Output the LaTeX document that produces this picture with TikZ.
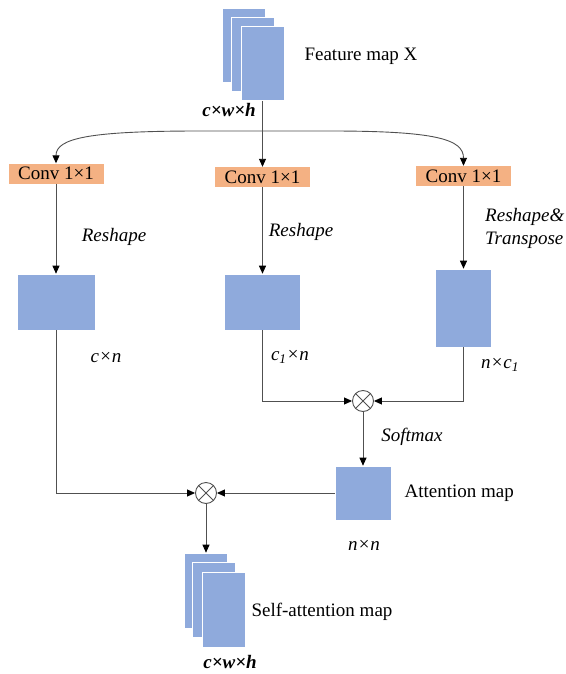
\documentclass[tikz,border=0pt]{standalone}
\usepackage{fontspec}
\setmainfont{Liberation Serif}
\usetikzlibrary{positioning,arrows.meta}
\definecolor{mapblue}{RGB}{143,170,220}
\definecolor{convorange}{RGB}{244,177,131}
\definecolor{linegray}{RGB}{80,80,80}
\tikzstyle{link} = [line width=0.9pt,draw=linegray]
\tikzstyle{arrow} = [link,-{Triangle[length=8pt,width=7pt,color=black]}]
\tikzstyle{conv} = [fill=convorange,minimum width=95pt,minimum height=20pt,inner sep=0pt]
\tikzstyle{sheet} = [fill=mapblue,draw=white,line width=0.6pt,inner sep=0pt]
\tikzstyle{mult} = [circle,draw=linegray,line width=0.9pt,minimum size=21pt,inner sep=0pt]
\tikzstyle{dimlabel} = [font=\fontsize{19}{23}\selectfont\itshape]
\tikzstyle{oplabel} = [font=\fontsize{19}{23}\selectfont\itshape]

\begin{document}
\begin{tikzpicture}[x=1pt,y=-1pt,font=\fontsize{19}{23}\selectfont]
			\useasboundingbox (0,0) rectangle (565,674);
			\node [sheet,minimum width=43pt,minimum height=74pt] (fmapa) at (244,45) {};
			\node [sheet,minimum width=43pt,minimum height=74pt] (fmapb) at (252.5,54.5) {};
			\node [sheet,minimum width=43pt,minimum height=74pt] (fmapc) at (262.5,63.5) {};
			\node [anchor=west] (fmaptext) at (301,56) {Feature map X};
			\node [dimlabel,font=\fontsize{19}{23}\selectfont\bfseries\itshape] (fmapdim) at (229,110) {c×w×h};
			\coordinate (split) at (262.5,131);
			\node [conv] (convl) at (56,173.5) {Conv 1×1};
			\node [conv] (convm) at (262.5,177) {Conv 1×1};
			\node [conv] (convr) at (463.5,176) {Conv 1×1};
			\node [sheet,minimum width=78pt,minimum height=56pt] (mapl) at (56,302) {};
			\node [sheet,minimum width=76pt,minimum height=56pt] (mapm) at (262.5,302) {};
			\node [sheet,minimum width=56pt,minimum height=78pt] (mapr) at (463.5,308) {};
			\node [oplabel] (reshl) at (114,237) {Reshape};
			\node [oplabel] (reshm) at (301,232) {Reshape};
			\node [oplabel,anchor=west,align=left,inner sep=0pt] (reshr) at (485,228.5) {Reshape\&\\Transpose};
			\node [dimlabel] (diml) at (106,357) {c×n};
			\node [dimlabel] (dimm) at (290,357) {c\textsubscript{1}×n};
			\node [dimlabel] (dimr) at (500,365) {n×c\textsubscript{1}};
			\node [mult] (multa) at (363,401) {};
			\node [oplabel] (softmax) at (412,437) {Softmax};
			\node [sheet,minimum width=56pt,minimum height=54pt] (attmap) at (363,493) {};
			\node [anchor=west] (atttext) at (401,493) {Attention map};
			\node [dimlabel] (attdim) at (364,545) {n×n};
			\node [mult] (multb) at (206,493) {};
			\node [sheet,minimum width=43pt,minimum height=75pt] (outa) at (206,590.5) {};
			\node [sheet,minimum width=43pt,minimum height=75pt] (outb) at (214,599.5) {};
			\node [sheet,minimum width=43pt,minimum height=75pt] (outc) at (224,609.5) {};
			\node [anchor=west] (outtext) at (248,612) {Self-attention map};
			\node [dimlabel,font=\fontsize{19}{23}\selectfont\bfseries\itshape] (outdim) at (230,662) {c×w×h};
			\draw[arrow] (fmapc.south) -- (convm.north);
			\draw[arrow] (split) -- (200,131) .. controls (90,131) and (56,138) .. (convl.north);
			\draw[arrow] (split) -- (330,131) .. controls (435,131) and (463.5,139) .. (convr.north);
			\draw[arrow] (convl.south) -- (mapl.north);
			\draw[arrow] (convm.south) -- (mapm.north);
			\draw[arrow] (convr.south) -- (mapr.north);
			\draw[arrow] (mapm.south) |- (multa.west);
			\draw[arrow] (mapr.south) |- (multa.east);
			\draw[link] (multa.north east) -- (multa.south west) (multa.north west) -- (multa.south east);
			\draw[arrow] (multa.south) -- (attmap.north);
			\draw[arrow] (mapl.south) |- (multb.west);
			\draw[arrow] (attmap.west) -- (multb.east);
			\draw[link] (multb.north east) -- (multb.south west) (multb.north west) -- (multb.south east);
			\draw[arrow] (multb.south) -- (outa.north);
		\end{tikzpicture}
\end{document}
